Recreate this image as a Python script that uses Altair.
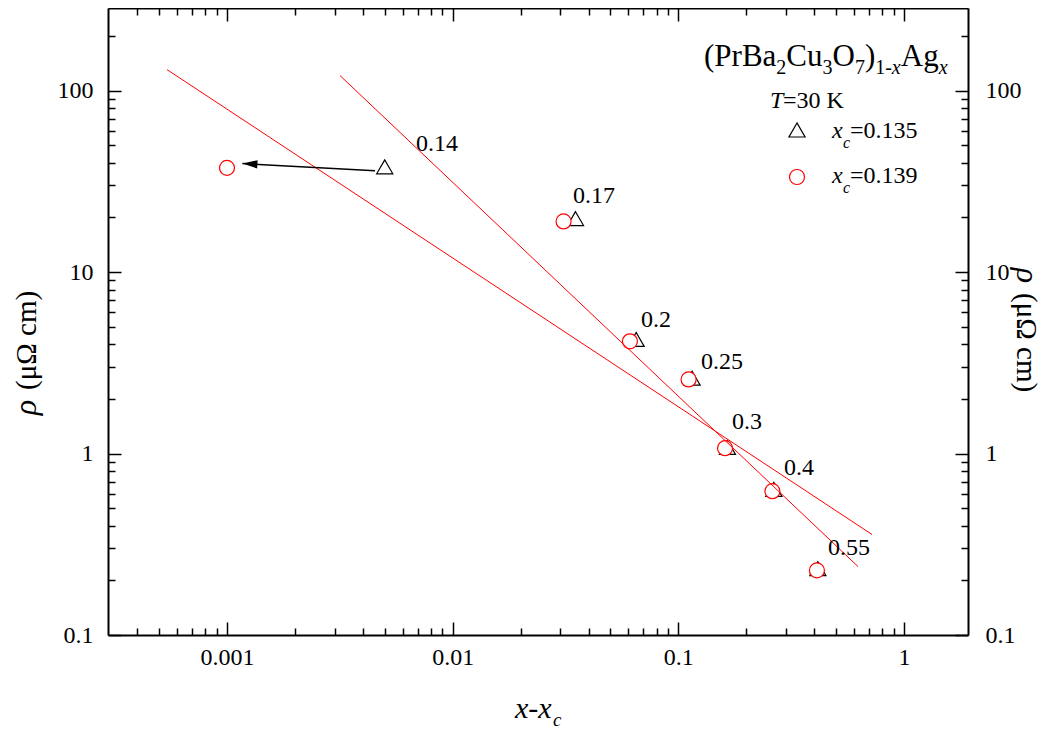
import altair as alt
import pandas as pd

SERIF = "Liberation Serif"

# ---------------- data ----------------
# x - x_c values for the two choices of x_c
dx_tri = [0.005, 0.035, 0.065, 0.115, 0.165, 0.265, 0.415]      # x_c = 0.135
rho_tri = [38.0, 19.7, 4.25, 2.6, 1.08, 0.635, 0.232]
dx_circ = [0.001, 0.031, 0.061, 0.111, 0.161, 0.261, 0.411]     # x_c = 0.139
rho_circ = [37.5, 19.0, 4.15, 2.56, 1.07, 0.62, 0.227]

# composition labels (x) and their anchor points in data space
comp_labels = ["0.14", "0.17", "0.2", "0.25", "0.3", "0.4", "0.55"]
comp_lab_x = [0.00852, 0.0423, 0.0796, 0.156, 0.2014, 0.342, 0.570]
comp_lab_y = [51.0, 26.1, 5.47, 3.21, 1.50, 0.837, 0.303]

# power-law fit lines (end points)
fitA_x = [0.000542, 0.721]
fitA_y = [130.5, 0.358]
fitB_x = [0.003167, 0.625]
fitB_y = [121.0, 0.2384]

# arrow from the x_c=0.135 point to the x_c=0.139 point
arrow_x = [0.00453, 0.00117]
arrow_y = [36.2, 39.6]

# axes
x_domain = [2.97e-4, 1.92]
y_domain = [0.1, 285]
x_major = [0.001, 0.01, 0.1, 1]
x_minor = [0.0004, 0.0005, 0.0006, 0.0007, 0.0008, 0.0009,
           0.002, 0.003, 0.004, 0.005, 0.006, 0.007, 0.008, 0.009,
           0.02, 0.03, 0.04, 0.05, 0.06, 0.07, 0.08, 0.09,
           0.2, 0.3, 0.4, 0.5, 0.6, 0.7, 0.8, 0.9]
y_major = [0.1, 1, 10, 100]
y_minor = [0.2, 0.3, 0.4, 0.5, 0.6, 0.7, 0.8, 0.9,
           2, 3, 4, 5, 6, 7, 8, 9,
           20, 30, 40, 50, 60, 70, 80, 90, 200]

# ---------------- layout ----------------
W, H = 860, 627
PL, PT = 100, 0
OX, OY = 8 + PL, 8 + PT      # page position of plot origin

xs = alt.Scale(type="log", domain=x_domain, nice=False)
ys = alt.Scale(type="log", domain=y_domain, nice=False)


def axis(orient, values, tick, labels=False, domain=False, pad=0):
    kw = dict(orient=orient, values=values, tickSize=alt.ExprRef(expr=str(-tick)),
              tickColor="black", tickWidth=1.5, grid=False, domain=domain,
              title=None, labels=labels, ticks=True)
    if domain:
        kw.update(domainColor="black", domainWidth=2)
    if labels:
        kw.update(labelFont=SERIF, labelFontSize=24, labelColor="black",
                  labelPadding=pad, format="~g", labelFlush=False, labelOverlap=False)
    return alt.Axis(**kw)


tri_df = pd.DataFrame({"x": dx_tri, "y": rho_tri})
circ_df = pd.DataFrame({"x": dx_circ, "y": rho_circ})
fit_df = pd.DataFrame({"x": fitA_x + fitB_x, "y": fitA_y + fitB_y,
                       "fit": ["A", "A", "B", "B"]})
arrow_df = pd.DataFrame({"x": [arrow_x[0]], "y": [arrow_y[0]],
                         "x2": [arrow_x[1]], "y2": [arrow_y[1]]})
head_df = pd.DataFrame({"x": [arrow_x[1]], "y": [arrow_y[1]]})
lab_df = pd.DataFrame({"x": comp_lab_x, "y": comp_lab_y, "t": comp_labels})

tri = alt.Chart(tri_df).mark_point(
    shape="triangle-up", filled=True, fill="white", stroke="black",
    strokeWidth=1.2, size=260, opacity=1
).encode(
    x=alt.X("x:Q", scale=xs, axis=axis("bottom", x_major, 13, labels=True, domain=True, pad=23)),
    y=alt.Y("y:Q", scale=ys, axis=axis("left", y_major, 13, labels=True, domain=True, pad=28)),
)

circ = alt.Chart(circ_df).mark_point(
    shape="circle", filled=True, fill="white", stroke="red",
    strokeWidth=1.2, size=225, opacity=1
).encode(
    x=alt.X("x:Q", scale=xs, axis=axis("bottom", x_minor, 7)),
    y=alt.Y("y:Q", scale=ys, axis=axis("left", y_minor, 7)),
)

fits = alt.Chart(fit_df).mark_line(color="red", strokeWidth=1).encode(
    x=alt.X("x:Q", scale=xs, axis=axis("top", x_major, 13, domain=True)),
    y=alt.Y("y:Q", scale=ys, axis=axis("right", y_major, 13, labels=True, domain=True, pad=30)),
    detail="fit:N",
)

shaft = alt.Chart(arrow_df).mark_rule(color="black", strokeWidth=1.5).encode(
    x=alt.X("x:Q", scale=xs, axis=axis("top", x_minor, 7)),
    y=alt.Y("y:Q", scale=ys, axis=axis("right", y_minor, 7)),
    x2="x2:Q", y2="y2:Q",
)

head = alt.Chart(head_df).mark_point(
    shape="M0,0L2,-0.55L2,0.55Z", filled=True, color="black", size=225,
    angle=3, opacity=1
).encode(
    x=alt.X("x:Q", scale=xs, axis=None),
    y=alt.Y("y:Q", scale=ys, axis=None),
)

labels = alt.Chart(lab_df).mark_text(
    font=SERIF, fontSize=24, color="black", align="center", baseline="middle"
).encode(
    x=alt.X("x:Q", scale=xs, axis=None),
    y=alt.Y("y:Q", scale=ys, axis=None),
    text="t:N",
)


def txt(s, X, Y, size, italic=False, align="left", baseline="alphabetic",
        angle=0, dx=0):
    kw = dict(text=s, font=SERIF, fontSize=size,
              fontStyle="italic" if italic else "normal", align=align,
              baseline=baseline, color="black")
    if angle:
        kw["angle"] = angle
    if dx:
        kw["dx"] = dx
    return alt.Chart(alt.Data(values=[{}])).mark_text(**kw).encode(
        x=alt.value(X - OX), y=alt.value(Y - OY))


def rich(segs, X0, base, sub_base, F, S):
    # segs: (text, is_sub, italic, em_width)
    out = []
    X = X0
    for s, is_sub, it, em in segs:
        size = S if is_sub else F
        out.append(txt(s, X, sub_base if is_sub else base, size, italic=it))
        X += em * size
    return out


title_segs = [("(PrBa", False, False, 2.333), ("2", True, False, 0.5),
              ("Cu", False, False, 1.167), ("3", True, False, 0.5),
              ("O", False, False, 0.722), ("7", True, False, 0.5),
              (")", False, False, 0.333), ("1-", True, False, 0.833),
              ("x", True, True, 0.444), ("Ag", False, False, 1.222),
              ("x", True, True, 0.444)]

overlay = []
overlay += rich(title_segs, 704, 66, 74, 31, 20)
# legend
overlay += [txt("T", 770, 108, 24, italic=True), txt("=30 K", 783, 108, 24)]
for yb, v in [(138, "=0.135"), (183, "=0.139")]:
    overlay += [txt("x", 832, yb, 24, italic=True),
                txt("c", 843, yb + 10, 16, italic=True),
                txt(v, 850, yb, 24)]
leg_tri = alt.Chart(alt.Data(values=[{}])).mark_point(
    shape="triangle-up", filled=True, fill="white", stroke="black",
    strokeWidth=1.2, size=260, opacity=1
).encode(x=alt.value(797 - OX), y=alt.value(130 - OY))
leg_circ = alt.Chart(alt.Data(values=[{}])).mark_point(
    shape="circle", filled=True, fill="white", stroke="red",
    strokeWidth=1.2, size=225, opacity=1
).encode(x=alt.value(797 - OX), y=alt.value(177 - OY))
# x axis title
overlay += [txt("x-x", 515, 718, 30, italic=True),
            txt("c", 553, 726, 19, italic=True)]
# left y title (reads bottom to top)
overlay += [txt("\u03c1", 36, 400, 32, italic=True, align="right", angle=270),
            txt("(\u03bc\u03a9 cm)", 36, 400, 29, align="left", angle=270, dx=10)]
# right y title (reads top to bottom)
overlay += [txt("\u03c1", 1017, 283, 32, italic=True, align="right", angle=90),
            txt("(\u03bc\u03a9 cm)", 1017, 283, 29, align="left", angle=90, dx=10)]

chart = alt.layer(
    tri, circ, fits, shaft, head, labels, leg_tri, leg_circ, *overlay
).resolve_axis(
    x="independent", y="independent"
).properties(
    width=W, height=H,
    padding={"left": PL, "top": PT, "right": 78, "bottom": 97},
    autosize=alt.AutoSizeParams(type="none"),
    background="white",
).configure_view(stroke=None)

chart.save("out.html", embed_options={"renderer": "svg", "actions": False})
